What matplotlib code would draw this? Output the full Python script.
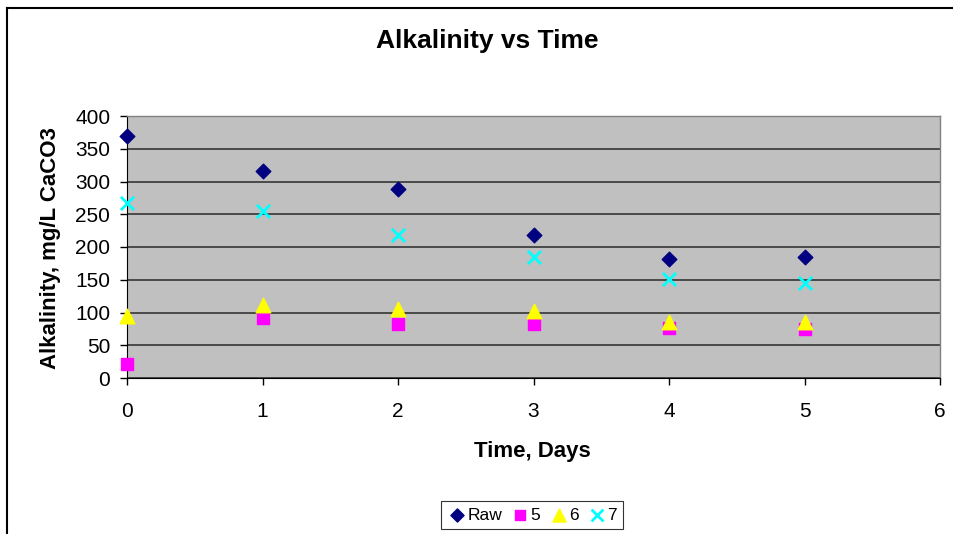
import matplotlib.pyplot as plt
from matplotlib.lines import Line2D

plt.rcParams['font.family'] = ['Liberation Sans', 'DejaVu Sans']

# ---- data ----
days = [0, 1, 2, 3, 4, 5]
raw = [369, 316, 289, 218, 182, 185]
s5 = [22, 92, 83, 83, 76, 75]
s6 = [95, 112, 106, 103, 85, 85]
s7 = [267, 255, 218, 185, 151, 145]

series_names = ["Raw", "5", "6", "7"]
y_ticks = [0, 50, 100, 150, 200, 250, 300, 350, 400]
x_ticks = [0, 1, 2, 3, 4, 5, 6]

fig = plt.figure(figsize=(9.54, 5.34), dpi=100)
ax = fig.add_axes([127 / 954, 1 - 378 / 534, (940 - 127) / 954, (378 - 116) / 534])

ax.set_facecolor("#c0c0c0")
ax.scatter(days, raw, marker="D", s=55, color="#000080", label=series_names[0], zorder=3, clip_on=False)
ax.scatter(days, s5, marker="s", s=70, color="#ff00ff", label=series_names[1], zorder=3, clip_on=False)
ax.scatter(days, s6, marker="^", s=110, color="#ffff00", label=series_names[2], zorder=4, clip_on=False)
ax.scatter(days, s7, marker="x", s=90, color="#00ffff", linewidths=2, label=series_names[3],
           zorder=5, clip_on=False)

ax.set_xlim(0, 6)
ax.set_ylim(0, 400)
ax.set_xticks(x_ticks)
ax.set_yticks(y_ticks)
ax.tick_params(axis="both", labelsize=15, direction="out", length=5, width=1, color="black")
ax.tick_params(axis="x", pad=12)
ax.tick_params(axis="y", pad=7)
ax.grid(True, axis="y", color="#404040", linewidth=1.3, zorder=1)
ax.set_axisbelow(True)

for side in ["top", "right"]:
    ax.spines[side].set_color("#808080")
    ax.spines[side].set_linewidth(1)
ax.spines["left"].set_color("black")
ax.spines["bottom"].set_color("black")

fig.text(487 / 954, 1 - 41 / 534, "Alkalinity vs Time", fontsize=19, fontweight="bold",
         ha="center", va="center")
fig.text(532 / 954, 1 - 452 / 534, "Time, Days", fontsize=16, fontweight="bold",
         ha="center", va="center")
fig.text(51 / 954, 1 - 248 / 534, "Alkalinity, mg/L CaCO3", fontsize=16, fontweight="bold",
         ha="center", va="center", rotation=90)

leg = fig.legend(loc="center", bbox_to_anchor=(532 / 954, 1 - 515 / 534), ncol=4,
                 fontsize=12.5, frameon=True, fancybox=False, edgecolor="black",
                 handletextpad=0.05, columnspacing=0.5, borderpad=0.35, handlelength=1.1,
                 scatterpoints=1, markerscale=0.9)
leg.get_frame().set_linewidth(0.8)

# outer chart border (top and left edges visible)
fig.add_artist(Line2D([7 / 954, 1], [1 - 8 / 534, 1 - 8 / 534], color="black", linewidth=1.5))
fig.add_artist(Line2D([7 / 954, 7 / 954], [0, 1 - 8 / 534], color="black", linewidth=1.5))

fig.savefig("out.png", dpi=100)
